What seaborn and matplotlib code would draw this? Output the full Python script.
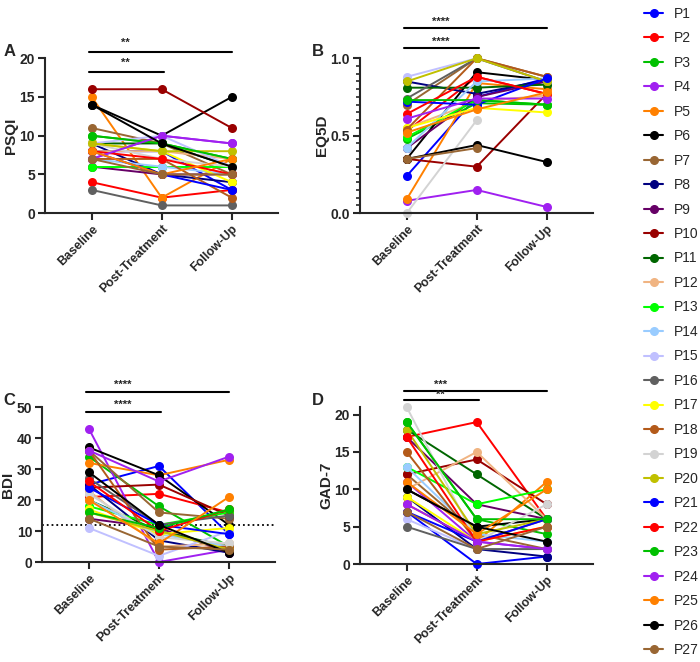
import numpy as np
import pandas as pd
import seaborn as sns
import matplotlib.pyplot as plt
from matplotlib.lines import Line2D

#----------------------------------data
timepoints = ["Baseline", "Post-Treatment", "Follow-Up"]
patients = ["P%d" % i for i in range(1, 28)]
colors = ["#0000ff", "#ff0000", "#00c000", "#a020f0", "#ff8000", "#000000", "#996633",
          "#000080", "#660066", "#990000", "#006600", "#f0b482", "#00ff00", "#99ccff",
          "#c0c0ff", "#606060", "#ffff00", "#b35a1a", "#d3d3d3", "#c0c000",
          "#0000ff", "#ff0000", "#00c000", "#a020f0", "#ff8000", "#000000", "#996633"]

# one row per patient: baseline, post-treatment, follow-up
psqi = [[8, 8, 3], [4, 2, 3], [10, 9, 7], [7, 10, 9], [15, 2, 7], [14, 10, 15], [11, 9, 5],
        [9, 5, 4], [6, 5, 5], [16, 16, 11], [9, 9, 6], [8, 8, 7], [6, 6, 6], [7, 6, 5],
        [9, 10, 6], [3, 1, 1], [9, 8, 4], [7, 7, 2], [9, 7, 6], [9, 8, 8],
        [8, 5, 3], [8, 7, 5], [10, 9, 7], [7, 10, 9], [8, 5, 7], [14, 9, 6], [7, 5, 5]]
eq5d = [[0.24, 0.75, 0.87], [0.53, 0.88, 0.77], [0.48, 0.71, 0.70], [0.08, 0.15, 0.04],
        [0.09, 0.84, 0.80], [0.35, 0.91, 0.86], [0.70, 1.00, 0.88], [0.85, 0.77, 0.86],
        [0.42, 0.75, 0.85], [0.35, 0.30, 0.77], [0.81, 0.81, 0.83], [0.55, 0.72, 0.76],
        [0.49, 0.73, 0.70], [0.42, 0.85, 0.87], [0.88, 1.00, 0.85], [0.74, 1.00, 0.85],
        [0.55, 0.68, 0.65], [0.54, 1.00, 0.88], [0.00, 0.60, np.nan], [0.85, 1.00, 0.85],
        [0.72, 0.70, 0.87], [0.64, 0.88, 0.77], [0.73, 0.73, 0.70], [0.61, 0.74, 0.74],
        [0.52, 0.67, 0.78], [0.35, 0.44, 0.33], [0.35, 0.42, np.nan]]
bdi = [[25, 31, 9], [21, 22, 16], [34, 18, 5], [43, 0, 4], [32, 28, 33], [37, 28, 12],
       [36, 16, 14], [25, 7, 3], [14, 11, 3], [24, 25, 15], [20, 10, 5], [23, 5, 6],
       [18, 12, 16], [20, 9, 5], [11, 2, 10], [27, 12, 15], [17, 9, 11], [36, 4, 5],
       [22, 8, 6], [16, 10, 4], [24, 12, 9], [26, 10, 17], [16, 11, 17], [36, 26, 34],
       [20, 6, 21], [29, 12, 3], [14, 5, 4]]
gad7 = [[7, 0, 1], [17, 19, 6], [19, 6, 4], [11, 3, 2], [8, 3, 11], [10, 5, 6], [12, 4, 2],
        [9, 2, 1], [17, 8, 6], [12, 14, 8], [18, 12, 6], [10, 15, 6], [13, 8, 10],
        [13, 4, 3], [6, 2, 2], [5, 2, 2], [9, 3, 5], [15, 3, 6], [21, 3, 8], [18, 4, 6],
        [7, 3, 6], [17, 3, 5], [19, 6, 6], [8, 3, 2], [11, 4, 10], [10, 5, 3], [7, 2, 5]]

pal = dict(zip(patients, colors))


def to_long(vals):
    rows = []
    for p, v in zip(patients, vals):
        for i, val in enumerate(v):
            if not np.isnan(val):
                rows.append({"patient": p, "x": i, "value": val})
    return pd.DataFrame(rows)


#----------------------------------figure
sns.set_style("ticks")
plt.rcParams["font.family"] = ["Liberation Sans", "DejaVu Sans"]
plt.rcParams["font.weight"] = "bold"

fig = plt.figure(figsize=(7, 6.62), dpi=100)

panels = [
    # letter, data, ylabel, rect, ylim, yticks, ticklabels, bars(y), stars(y), star text, letter pos
    ("A", psqi, "PSQI", [0.064, 0.678, 0.333, 0.234], (0, 20), [0, 5, 10, 15, 20], None,
     [20.8, 18.2], [21.4, 18.8], ["**", "**"], (0.005, 0.922)),
    ("B", eq5d, "EQ5D", [0.514, 0.678, 0.333, 0.234], (0, 1.0), [0.0, 0.5, 1.0],
     ["0.0", "0.5", "1.0"], [1.194, 1.065], [1.205, 1.076], ["****", "****"], (0.445, 0.922)),
    ("C", bdi, "BDI", [0.06, 0.151, 0.333, 0.234], (0, 50), [0, 10, 20, 30, 40, 50], None,
     [54.8, 48.4], [55.5, 49.1], ["****", "****"], (0.005, 0.395)),
    ("D", gad7, "GAD-7", [0.514, 0.148, 0.333, 0.237], (0, 21), [0, 5, 10, 15, 20], None,
     [23.2, 21.9], [23.3, 22.0], ["***", "**"], (0.445, 0.395)),
]

for letter, vals, ylab, rect, ylim, yticks, ytl, bars, stars, stxt, lpos in panels:
    ax = fig.add_axes(rect)
    df = to_long(vals)
    sns.lineplot(data=df, x="x", y="value", hue="patient", palette=pal, units="patient",
                 estimator=None, sort=False, marker="o", markersize=6.5, markeredgewidth=0,
                 linewidth=1.4, legend=False, ax=ax)
    for ln in ax.lines:
        ln.set_clip_on(False)
    ax.set_xlim(-0.67, 2.66)
    ax.set_ylim(*ylim)
    ax.set_xticks([0, 1, 2])
    ax.set_xticklabels(timepoints, rotation=45, ha="right", rotation_mode="anchor",
                       fontsize=9, fontweight="bold")
    ax.set_yticks(yticks)
    if ytl:
        ax.set_yticklabels(ytl)
    if letter == "B":
        ax.set_yticks(np.arange(0, 1.0001, 0.05), minor=True)
        ax.tick_params(axis="y", which="minor", length=3, width=1.2)
    for t in ax.get_yticklabels():
        t.set_fontweight("bold")
        t.set_fontsize(10)
    ax.set_xlabel("")
    ax.set_ylabel(ylab, fontsize=11, fontweight="bold", labelpad=1)
    ax.tick_params(axis="both", which="major", length=5, width=1.5, pad=2)
    for s in ["left", "bottom"]:
        ax.spines[s].set_linewidth(1.5)
    sns.despine(ax=ax)
    if letter == "C":
        ax.axhline(12, color="black", linestyle=":", linewidth=1.3, zorder=0)

    # significance bars
    ax.plot([-0.04, 2.0], [bars[0]] * 2, color="black", lw=1.5, clip_on=False)
    ax.plot([-0.04, 1.03], [bars[1]] * 2, color="black", lw=1.5, clip_on=False)
    ax.text(0.48, stars[0], stxt[0], ha="center", va="bottom", fontsize=8)
    ax.text(0.48, stars[1], stxt[1], ha="center", va="bottom", fontsize=8)

    fig.text(lpos[0], lpos[1], letter, fontsize=12, fontweight="bold", va="center")

#----------------------------------legend
handles = [Line2D([0], [0], color=c, marker="o", markersize=5.5, lw=1.5) for c in colors]
leg = fig.legend(handles, patients, loc="upper left", bbox_to_anchor=(0.92, 0.99),
                 frameon=False, fontsize=10, handlelength=1.37, handletextpad=0.75,
                 labelspacing=0.755, borderpad=0, borderaxespad=0)
for t in leg.get_texts():
    t.set_fontweight("normal")

fig.savefig("out.png", dpi=100)
